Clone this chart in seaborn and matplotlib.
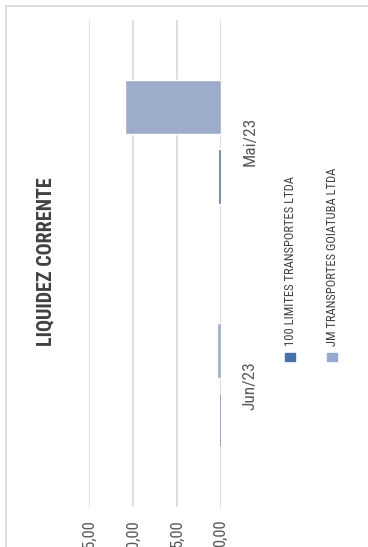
import matplotlib
matplotlib.use("Agg")
import matplotlib.pyplot as plt
from matplotlib.patches import Rectangle
from matplotlib.lines import Line2D
import seaborn as sns
import pandas as pd

# Dados
meses = ["Mai/23", "Jun/23"]
empresas = ["JM TRANSPORTES GOIATUBA LTDA", "100 LIMITES TRANSPORTES LTDA"]
valores_jm = [10.87, 0.45]
valores_100 = [0.27, 0.23]
ticks_valor = [0, 5, 10, 15]
ticks_rotulos = ["0,00", "5,00", "10,00", "15,00"]
titulo = "LIQUIDEZ CORRENTE"

cores = {empresas[0]: "#94AAD2", empresas[1]: "#4A72AA"}

df = pd.DataFrame({
    "mes": meses * 2,
    "empresa": [empresas[0]] * 2 + [empresas[1]] * 2,
    "valor": valores_jm + valores_100,
})

sns.set_style("white")
plt.rcParams["font.family"] = ["Roboto Condensed", "DejaVu Sans"]

W, H = 368, 547
fig = plt.figure(figsize=(W / 100, H / 100), dpi=100)
ax = fig.add_axes([89 / W, 1 - 507 / H, (220.7 - 89) / W, 487 / H])

sns.barplot(data=df, x="valor", y="mes", hue="empresa", hue_order=empresas,
            order=meses, orient="h", palette=cores, width=0.57, gap=0.22,
            legend=False, ax=ax)

ax.set_xlim(15, 0)
ax.set_ylim(1.5, -0.5)
ax.set_xticks(ticks_valor)
ax.set_xticklabels(ticks_rotulos, rotation=90, fontsize=12, color="#595959")
ax.tick_params(axis="x", length=0, pad=9)
ax.yaxis.tick_right()
ax.tick_params(axis="y", length=0, pad=16, labelrotation=90, labelsize=12.5,
               labelcolor="#595959")
for lab in ax.get_yticklabels():
    lab.set_va("center")
ax.set_xlabel("")
ax.set_ylabel("")
ax.grid(axis="x", color="#d9d9d9", lw=1.2)
ax.grid(axis="y", visible=False)
ax.set_axisbelow(True)
for s in ax.spines.values():
    s.set_visible(False)

# borda da área do gráfico (só topo e esquerda visíveis)
fig.add_artist(Line2D([6 / W, 1], [1 - 6 / H, 1 - 6 / H], transform=fig.transFigure,
                      color="#d9d9d9", lw=1.2))
fig.add_artist(Line2D([6 / W, 6 / W], [0, 1 - 6 / H], transform=fig.transFigure,
                      color="#d9d9d9", lw=1.2))

# título
fig.text(46 / W, 1 - 262 / H, titulo, rotation=90, ha="center", va="center",
         fontsize=14.5, fontweight="semibold", color="#404040")

# legenda manual
for emp, x0 in [(empresas[1], 285), (empresas[0], 327)]:
    fig.add_artist(Rectangle((x0 / W, 1 - 361 / H), 10 / W, 8 / H,
                             transform=fig.transFigure, color=cores[emp]))
    fig.text((x0 + 6) / W, 1 - 346 / H, emp, rotation=90, ha="center", va="bottom",
             fontsize=9, color="#404040")

fig.savefig("out.png", dpi=100)
